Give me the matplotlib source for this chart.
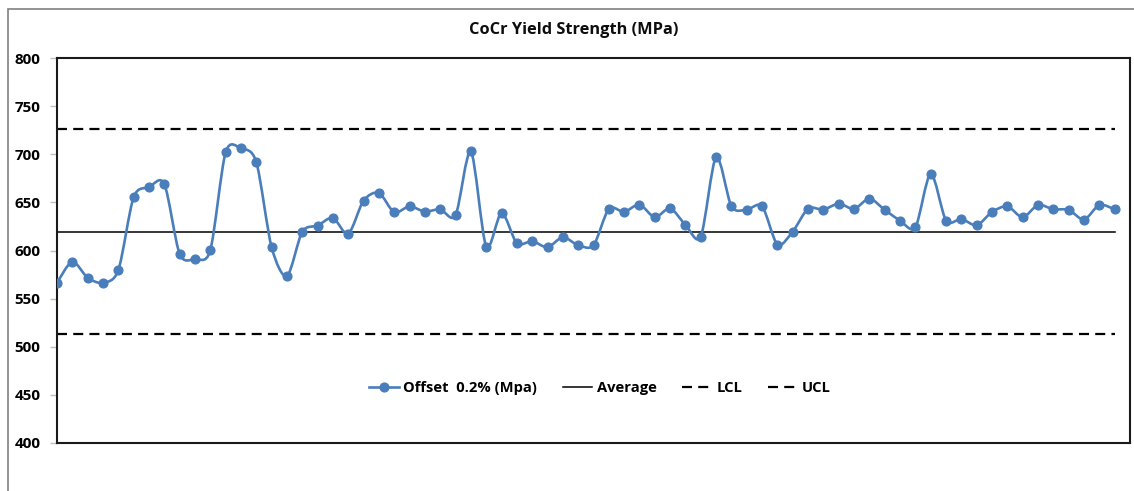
import matplotlib
matplotlib.use('Agg')
import matplotlib.pyplot as plt
import numpy as np
from matplotlib.path import Path
from matplotlib.patches import PathPatch, Rectangle
from matplotlib.lines import Line2D

plt.rcParams['font.family'] = ['Open Sans', 'DejaVu Sans']
plt.rcParams['font.weight'] = 'bold'

# yield strength per sample (MPa)
offset = [566.5, 588.3, 571.7, 566.5, 579.6, 655.3, 665.6, 669.1, 596.5, 591.4,
          600.3, 701.9, 706.0, 691.9, 603.4, 573.4, 619.4, 625.9, 633.9, 617.3,
          651.8, 659.8, 639.7, 645.9, 640.4, 642.8, 636.6, 702.9, 604.1, 639.0,
          607.6, 609.7, 603.4, 613.8, 605.5, 605.5, 643.2, 640.1, 647.7, 634.5,
          643.8, 626.6, 614.5, 697.1, 645.9, 642.5, 645.9, 606.2, 619.7, 643.5,
          642.5, 648.7, 643.2, 653.9, 642.2, 631.1, 624.2, 679.8, 631.1, 632.8,
          626.2, 640.1, 645.9, 634.5, 647.3, 642.8, 642.2, 632.1, 647.3, 642.8]
average = 619.6
lcl = 513.0
ucl = 726.4

blue = '#4A7EBB'

x = np.arange(len(offset))
y = np.array(offset)

fig = plt.figure(figsize=(11.34, 4.91), dpi=100)
ax = fig.add_axes([57/1134, 1 - 443/491, (1130-57)/1134, (443-58)/491])

# outer chart border
fig.patches.append(Rectangle((8/1134, -0.1), 1.2, 1 - 8.5/491 + 0.1, transform=fig.transFigure,
                             fill=False, edgecolor='#808080', lw=1.2))

# smoothed line like Excel (bezier through the points)
verts = [(x[0], y[0])]
codes = [Path.MOVETO]
n = len(x)
k = 1 / 7
for i in range(n - 1):
    p0 = np.array([x[max(i-1, 0)], y[max(i-1, 0)]])
    p1 = np.array([x[i], y[i]])
    p2 = np.array([x[i+1], y[i+1]])
    p3 = np.array([x[min(i+2, n-1)], y[min(i+2, n-1)]])
    c1 = p1 + (p2 - p0) * k
    c2 = p2 - (p3 - p1) * k
    verts += [tuple(c1), tuple(c2), tuple(p2)]
    codes += [Path.CURVE4] * 3
ax.add_patch(PathPatch(Path(verts, codes), facecolor='none', edgecolor=blue, lw=1.9, zorder=3))
ax.plot(x, y, linestyle='none', marker='o', markersize=6.3, color=blue, zorder=4)

ax.plot([x[0], x[-1]], [average, average], color='black', lw=1.1, zorder=2)
ax.plot([x[0], x[-1]], [lcl, lcl], color='black', lw=1.6, dashes=(4.5, 2.8), zorder=2)
ax.plot([x[0], x[-1]], [ucl, ucl], color='black', lw=1.6, dashes=(4.5, 2.8), zorder=2)

ax.set_xlim(0, 70)
ax.set_ylim(400, 800)
ax.set_yticks(np.arange(400, 801, 50))
ax.set_xticks([])
ax.tick_params(axis='y', length=5, width=1, color='#bfbfbf', pad=7, labelsize=11)
for s in ax.spines.values():
    s.set_linewidth(1.5)
    s.set_color('#1a1a1a')

fig.text(574/1134, 1 - 30/491, 'CoCr Yield Strength (MPa)', ha='center', va='center',
         fontsize=11.8, fontweight='bold', color='#0d0d0d')

handles = [Line2D([], [], color=blue, lw=1.9, marker='o', markersize=6.3),
           Line2D([], [], color='black', lw=1.1),
           Line2D([], [], color='black', lw=1.6, dashes=(4.5, 2.8)),
           Line2D([], [], color='black', lw=1.6, dashes=(4.5, 2.8))]
labels = ['Offset  0.2% (Mpa)', 'Average', 'LCL', 'UCL']
ax.legend(handles, labels, loc='center', bbox_to_anchor=((600-57)/1073, (443-388)/385),
          ncol=4, frameon=False, handlelength=2.0, handletextpad=0.3, columnspacing=1.75,
          prop={'weight': 'bold', 'size': 10.6})

fig.savefig('out.png', dpi=100)
